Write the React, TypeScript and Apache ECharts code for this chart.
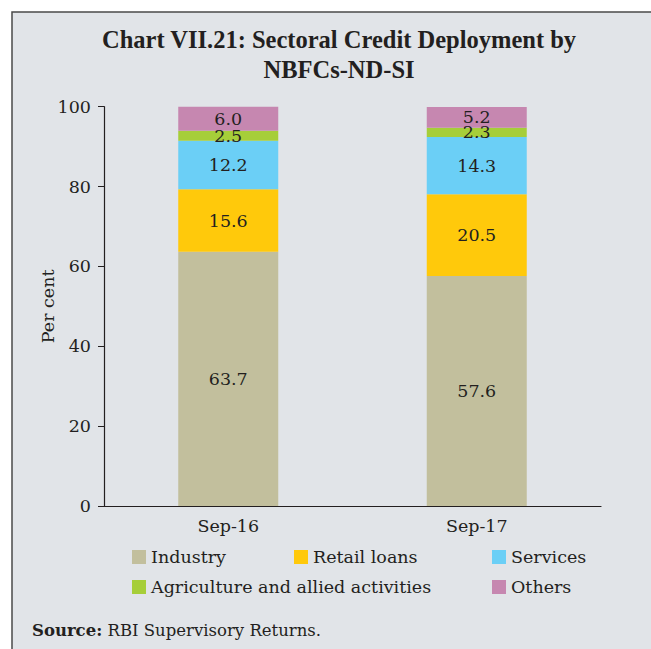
import React, { useEffect, useRef } from "react";
import * as echarts from "echarts";

const categories = ["Sep-16", "Sep-17"];
const seriesNames = ["Industry", "Retail loans", "Services", "Agriculture and allied activities", "Others"];
const industry = [63.7, 57.6];
const retailLoans = [15.6, 20.5];
const services = [12.2, 14.3];
const agriculture = [2.5, 2.3];
const others = [6.0, 5.2];
const colors = ["#c2bf9d", "#ffc90b", "#6bcff6", "#a6ce39", "#c687b0"];
const yTicks = [0, 20, 40, 60, 80, 100];

const serif = "DejaVu Serif";
const textColor = "#231f20";
const fs = 17.5;

export default function App() {
  const ref = useRef<HTMLDivElement>(null);
  useEffect(() => {
    const chart = echarts.init(ref.current!, null, { renderer: "svg" });
    const values = [industry, retailLoans, services, agriculture, others];
    const legendPos = [
      { left: 127, top: 543 },
      { left: 289, top: 543 },
      { left: 487, top: 543 },
      { left: 127, top: 573 },
      { left: 487, top: 573 },
    ];
    chart.setOption({
      animation: false,
      backgroundColor: "#ffffff",
      title: {
        text: "Chart VII.21: Sectoral Credit Deployment by\nNBFCs-ND-SI",
        left: 334,
        top: 19,
        textAlign: "center",
        textStyle: {
          fontFamily: "Liberation Serif",
          fontWeight: "bold",
          fontSize: 24.5,
          lineHeight: 30,
          color: textColor,
        },
      },
      graphic: [
        {
          type: "rect",
          z: -10,
          shape: { x: 12, y: 12, width: 700, height: 700 },
          style: { fill: "#e1e4e8", stroke: "#4a4a4a", lineWidth: 1.5 },
        },
        {
          type: "text",
          left: 32,
          top: 622,
          style: {
            text: "{b|Source:} RBI Supervisory Returns.",
            rich: {
              b: { fontFamily: serif, fontWeight: "bold", fontSize: 16.5, fill: textColor },
            },
            fontFamily: serif,
            fontSize: 16.5,
            fill: textColor,
          },
        },
      ],
      legend: seriesNames.map((n, i) => ({
        data: [n],
        left: legendPos[i].left,
        top: legendPos[i].top,
        icon: "rect",
        itemWidth: 14,
        itemHeight: 14,
        textStyle: {
          fontFamily: serif,
          fontSize: fs,
          color: textColor,
        },
      })),
      grid: { left: 104, right: 50, top: 106.7, bottom: 143 },
      xAxis: {
        type: "category",
        data: categories,
        axisLine: { lineStyle: { color: textColor, width: 1.2 } },
        axisTick: { length: 5, lineStyle: { color: textColor } },
        axisLabel: { fontFamily: serif, fontSize: fs, color: textColor, margin: 11 },
      },
      yAxis: {
        type: "value",
        min: 0,
        max: 100,
        interval: 20,
        name: "Per cent",
        nameLocation: "middle",
        nameGap: 47,
        nameMoveOverlap: false,
        nameTextStyle: { fontFamily: serif, fontSize: fs, color: textColor },
        axisLine: { show: true, lineStyle: { color: textColor, width: 1.2 } },
        axisTick: { show: true, length: 6, lineStyle: { color: textColor } },
        axisLabel: {
          fontFamily: serif,
          fontSize: fs,
          color: textColor,
          margin: 13,
          formatter: (v: number) => (yTicks.includes(v) ? String(v) : ""),
        },
        splitLine: { show: false },
      },
      series: seriesNames.map((n, i) => ({
        name: n,
        type: "bar",
        stack: "total",
        barWidth: 100,
        data: values[i],
        itemStyle: { color: colors[i] },
        label: {
          show: true,
          position: "inside",
          fontFamily: serif,
          fontSize: fs,
          lineHeight: 14,
          color: textColor,
          formatter: (p: any) => Number(p.value).toFixed(1),
        },
      })),
    });
    return () => chart.dispose();
  }, []);
  return (
    <div
      ref={ref}
      style={{ position: "fixed", left: 0, top: 0, width: 651, height: 649 }}
    />
  );
}
